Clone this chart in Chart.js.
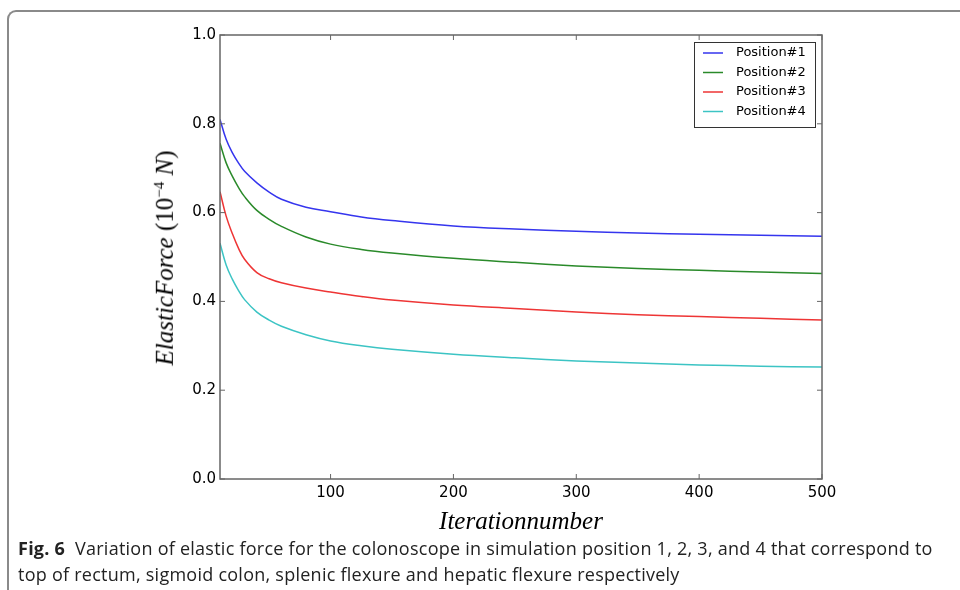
<!DOCTYPE html>
<html>
<head>
<meta charset="utf-8">
<script src="https://cdn.jsdelivr.net/npm/chart.js@4.4.1/dist/chart.umd.min.js"></script>
<style>
  html, body { margin: 0; padding: 0; background: #fff; }
  #wrap { position: relative; width: 960px; height: 590px; overflow: hidden; }
  #frame {
    position: absolute; left: 7px; top: 10px; width: 1000px; height: 700px;
    border-left: 2px solid #8a8a8a; border-top: 2px solid #8a8a8a;
    border-top-left-radius: 9px;
  }
  canvas { position: absolute; left: 0; top: 0; }
  .axis-title {
    position: absolute; font-family: "Liberation Serif", serif; font-style: italic;
    font-size: 25px; color: #000; white-space: nowrap;
  }
  .axis-title .up { font-style: normal; }
  .axis-title sup { font-size: 15px; font-style: normal; }
  #ytitle { left: 165px; top: 258px; transform: translate(-50%, -50%) rotate(-90deg); }
  #xtitle { left: 521px; top: 521px; transform: translate(-50%, -50%); }
  #caption {
    position: absolute; left: 18px; top: 535px; width: 960px; white-space: nowrap;
    font-family: "Open Sans", sans-serif; font-size: 18px; line-height: 26px; color: #222;
    letter-spacing: 0.25px;
  }
  #caption b { font-weight: 700; }
</style>
</head>
<body>
<div id="wrap">
  <div id="frame"></div>
  <canvas id="chart" width="960" height="590"></canvas>
  <div class="axis-title" id="ytitle">ElasticForce <span class="up">(10<sup>−4</sup></span> N<span class="up">)</span></div>
  <div class="axis-title" id="xtitle">Iterationnumber</div>
  <div id="caption"><b>Fig. 6</b>&nbsp; Variation of elastic force for the colonoscope in simulation position 1, 2, 3, and 4 that correspond to<br>top of rectum, sigmoid colon, splenic flexure and hepatic flexure respectively</div>
</div>
<script>
// values
const iterations = [10, 15, 20, 25, 30, 40, 50, 60, 80, 100, 125, 150, 200, 250, 300, 350, 400, 450, 500];
const position1 = [0.810, 0.765, 0.735, 0.712, 0.693, 0.667, 0.646, 0.630, 0.612, 0.602, 0.590, 0.582, 0.570, 0.563, 0.558, 0.554, 0.551, 0.549, 0.547];
const position2 = [0.756, 0.712, 0.682, 0.657, 0.636, 0.605, 0.585, 0.569, 0.545, 0.529, 0.517, 0.509, 0.497, 0.488, 0.480, 0.474, 0.470, 0.466, 0.463];
const position3 = [0.647, 0.592, 0.553, 0.520, 0.495, 0.465, 0.451, 0.442, 0.430, 0.421, 0.411, 0.403, 0.392, 0.384, 0.376, 0.370, 0.366, 0.362, 0.358];
const position4 = [0.531, 0.482, 0.450, 0.425, 0.404, 0.376, 0.358, 0.344, 0.325, 0.311, 0.300, 0.292, 0.281, 0.273, 0.266, 0.261, 0.257, 0.254, 0.252];

const seriesNames = ["Position#1", "Position#2", "Position#3", "Position#4"];
const seriesColors = ["#3535ee", "#2a8a2a", "#ee3535", "#3cc4c4"];
const xTicks = [100, 200, 300, 400, 500];

function toPoints(values) {
  return values.map((v, i) => ({ x: iterations[i], y: v }));
}

// matplotlib-style box with inward ticks on all four sides
const framePlugin = {
  id: "frame",
  afterDraw(chart) {
    const { ctx, chartArea: a, scales } = chart;
    const len = 5;
    ctx.save();
    ctx.strokeStyle = "#666";
    ctx.lineWidth = 1.5;
    ctx.strokeRect(a.left, a.top, a.right - a.left, a.bottom - a.top);
    ctx.lineWidth = 1;
    ctx.beginPath();
    scales.x.ticks.forEach((t) => {
      const px = scales.x.getPixelForValue(t.value);
      ctx.moveTo(px, a.bottom); ctx.lineTo(px, a.bottom - len);
      ctx.moveTo(px, a.top); ctx.lineTo(px, a.top + len);
    });
    scales.y.ticks.forEach((t) => {
      const py = scales.y.getPixelForValue(t.value);
      ctx.moveTo(a.left, py); ctx.lineTo(a.left + len, py);
      ctx.moveTo(a.right, py); ctx.lineTo(a.right - len, py);
    });
    ctx.stroke();

    // legend box in the upper right corner
    const boxW = 121, boxH = 85;
    const bx = a.right - 7 - boxW, by = a.top + 7;
    ctx.fillStyle = "#fff";
    ctx.fillRect(bx, by, boxW, boxH);
    ctx.strokeStyle = "#333";
    ctx.strokeRect(bx + 0.5, by + 0.5, boxW, boxH);
    ctx.font = "13px 'DejaVu Sans', sans-serif";
    ctx.textBaseline = "middle";
    chart.data.datasets.forEach((ds, i) => {
      const y = by + 11 + i * 19.5;
      ctx.strokeStyle = ds.borderColor;
      ctx.lineWidth = 1.5;
      ctx.beginPath();
      ctx.moveTo(bx + 9, y); ctx.lineTo(bx + 29, y);
      ctx.stroke();
      ctx.fillStyle = "#000";
      ctx.fillText(ds.label, bx + 42, y);
    });
    ctx.restore();
  },
};

const datasets = [position1, position2, position3, position4].map((vals, i) => ({
  label: seriesNames[i],
  data: toPoints(vals),
  borderColor: seriesColors[i],
  borderWidth: 1.5,
  pointRadius: 0,
  fill: false,
  tension: 0.4,
}));

const tickFont = { family: "'DejaVu Sans', sans-serif", size: 15 };

new Chart(document.getElementById("chart"), {
  type: "line",
  data: { datasets: datasets },
  options: {
    responsive: false,
    animation: false,
    layout: { padding: { left: 150, top: 35, right: 138, bottom: 81 } },
    plugins: { legend: { display: false }, tooltip: { enabled: false } },
    scales: {
      x: {
        type: "linear",
        min: 10,
        max: 500,
        afterBuildTicks: (scale) => { scale.ticks = xTicks.map((v) => ({ value: v })); },
        afterFit: (scale) => { scale.height = 30; },
        grid: { display: false, drawTicks: false },
        border: { display: false },
        ticks: { color: "#000", padding: 5, font: tickFont },
      },
      y: {
        min: 0,
        max: 1,
        afterFit: (scale) => { scale.width = 70; },
        grid: { display: false, drawTicks: false },
        border: { display: false },
        ticks: {
          stepSize: 0.2,
          color: "#000",
          padding: 4,
          font: tickFont,
          callback: (v) => v.toFixed(1),
        },
      },
    },
  },
  plugins: [framePlugin],
});
</script>
</body>
</html>
